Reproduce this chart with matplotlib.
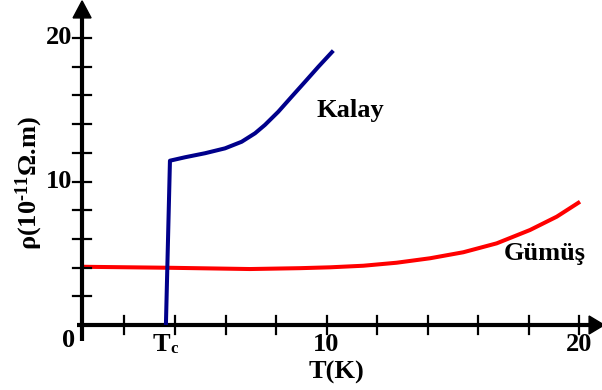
import matplotlib
matplotlib.use("Agg")
import matplotlib.pyplot as plt
from matplotlib.patches import Polygon

plt.rcParams['font.family'] = ['Liberation Serif', 'DejaVu Serif']
plt.rcParams['font.weight'] = 'bold'
plt.rcParams['mathtext.fontset'] = 'custom'
plt.rcParams['mathtext.rm'] = 'Liberation Serif:bold'
plt.rcParams['mathtext.bf'] = 'Liberation Serif:bold'
plt.rcParams['mathtext.default'] = 'rm'

# Data
tin_T = [3.64, 3.80, 4.40, 5.19, 5.98, 6.64, 7.17, 7.56, 8.09, 8.62, 9.15, 9.68, 10.27]
tin_rho = [0.0, 11.45, 11.69, 11.97, 12.31, 12.77, 13.36, 13.94, 14.86, 15.91, 16.95, 18.0, 19.12]
silver_T = [0.24, 3.7, 6.97, 8.95, 10.14, 11.46, 12.78, 14.10, 15.42, 16.74, 18.06, 19.12, 20.04]
silver_rho = [4.06, 3.99, 3.9, 3.96, 4.02, 4.13, 4.34, 4.65, 5.07, 5.69, 6.62, 7.55, 8.59]
x_ticks = [2, 4, 6, 8, 10, 12, 14, 16, 18, 20]
y_ticks = [2, 4, 6, 8, 10, 12, 14, 16, 18, 20]
x_labels = {10: "10", 20: "20"}
y_labels = {10: "10", 20: "20"}
series_names = ["Kalay", "Gümüş"]
Tc = 3.72

W, H = 602, 390
fig = plt.figure(figsize=(W / 100, H / 100), dpi=100)
ax = fig.add_axes([0, 0, 1, 1])
PX_X0, PX_XS = 74.0, 25.25
PX_Y0, PX_YS = 325.0, 14.35
ax.set_xlim(-PX_X0 / PX_XS, (W - PX_X0) / PX_XS)
ax.set_ylim((PX_Y0 - H) / PX_YS, PX_Y0 / PX_YS)
ax.axis('off')

def dx(px):
    return px / PX_XS

def dy(py):
    return py / PX_YS

xa = 0.32   # y-axis position (T units)
ya = 0.0    # x-axis position (rho units)
lw_ax = 3.0

# x axis
ax.plot([xa - dx(5), 20.6], [ya, ya], color='black', lw=lw_ax, solid_capstyle='butt', zorder=3)
ax.add_patch(Polygon([[20.4, ya + dy(9)], [20.4 + dx(15), ya], [20.4, ya - dy(9)]],
                     closed=True, color='black', zorder=3))
# y axis
ax.plot([xa, xa], [ya - dy(16), 21.6], color='black', lw=lw_ax, solid_capstyle='butt', zorder=3)
ax.add_patch(Polygon([[xa - dx(9), 21.4], [xa, 21.4 + dy(17)], [xa + dx(9), 21.4]],
                     closed=True, color='black', zorder=3))

for t in x_ticks:
    ax.plot([t, t], [ya - dy(9), ya + dy(9)], color='black', lw=1.6, zorder=3)
for t in y_ticks:
    ax.plot([xa - dx(9), xa + dx(9)], [t, t], color='black', lw=1.6, zorder=3)

fs = 19
for t, s in x_labels.items():
    ax.text(t, ya - dy(8), s, ha='center', va='top', fontsize=fs, fontweight='bold')
ax.text(xa - dx(14), ya - dy(4), "0", ha='center', va='top', fontsize=fs, fontweight='bold')
for t, s in y_labels.items():
    ax.text(xa - dx(10), t, s, ha='right', va='center', fontsize=fs, fontweight='bold')
ax.text(Tc + dx(2), ya - dy(8), "T", ha='right', va='top', fontsize=fs, fontweight='bold')
ax.text(Tc + dx(2), ya - dy(16), "c", ha='left', va='top', fontsize=12, fontweight='bold')

ax.text(10.4, ya - dy(36), "T(K)", ha='center', va='top', fontsize=fs, fontweight='bold')
ax.text(-1.75, 9.9, r"ρ(10$^{\text{-11}}$Ω.m)", ha='center', va='center', rotation=90,
        fontsize=fs, fontweight='bold')

ax.plot(tin_T, tin_rho, color='#00008B', lw=2.9, solid_joinstyle='round',
        solid_capstyle='butt', zorder=4)
ax.plot(silver_T, silver_rho, color='#FF0000', lw=2.9, solid_joinstyle='round',
        solid_capstyle='butt', zorder=2)

ax.text(10.95, 14.95, series_names[0], ha='center', va='center', fontsize=fs, fontweight='bold')
ax.text(18.65, 5.0, series_names[1], ha='center', va='center', fontsize=fs, fontweight='bold')

fig.savefig("out.png", dpi=100)
